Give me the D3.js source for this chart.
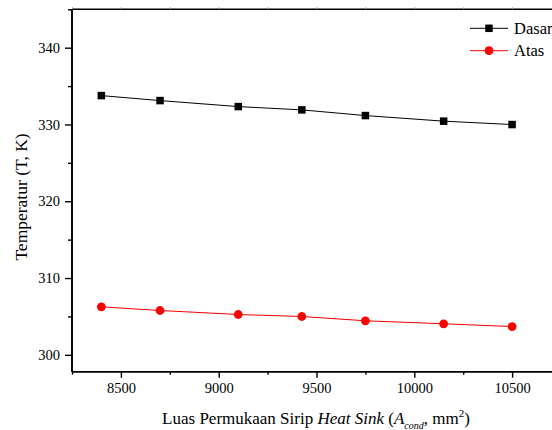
<!DOCTYPE html>
<html><head><meta charset="utf-8">
<script src="https://cdn.jsdelivr.net/npm/d3@7"></script>
<style>
html,body{margin:0;padding:0;background:#fff;overflow:hidden}
svg{display:block}
svg text{font-family:"Liberation Serif","Tinos","Times New Roman","DejaVu Serif","Noto Serif",serif !important;fill:#000}
</style></head>
<body>
<script>
const areas = [8400, 8700, 9100, 9425, 9750, 10150, 10500];
const dasar = [333.76, 333.11, 332.33, 331.90, 331.16, 330.43, 329.99];
const atas  = [306.25, 305.77, 305.25, 304.99, 304.43, 304.04, 303.68];
const seriesNames = ["Dasar", "Atas"];
const xMajorTicks = [8500, 9000, 9500, 10000, 10500];
const xMinorTicks = [8250, 8750, 9250, 9750, 10250, 10750];
const yMajorTicks = [300, 310, 320, 330, 340];
const yMinorTicks = [305, 315, 325, 335, 345];

const FONT = '"Liberation Serif","Tinos","Times New Roman","DejaVu Serif","Noto Serif",serif';
const W = 552, H = 430;
const L = 72, R = 561, T = 9.3, B = 371.7;

const svg = d3.select("body").append("svg").attr("width", W).attr("height", H)
  .attr("font-family", FONT);
const x = d3.scaleLinear().domain([8250, 10750]).range([L, R]);
const y = d3.scaleLinear().domain([297.8, 345]).range([B, T]);

const gx = svg.append("g").attr("transform", `translate(0,${B})`)
  .call(d3.axisBottom(x).tickValues(xMajorTicks).tickSize(6).tickPadding(5).tickFormat(d3.format("d")));
const gxm = svg.append("g").attr("transform", `translate(0,${B})`)
  .call(d3.axisBottom(x).tickValues(xMinorTicks).tickSize(3).tickFormat(""));
const gy = svg.append("g").attr("transform", `translate(${L},0)`)
  .call(d3.axisLeft(y).tickValues(yMajorTicks).tickSize(7).tickPadding(5).tickFormat(d3.format("d")));
const gym = svg.append("g").attr("transform", `translate(${L},0)`)
  .call(d3.axisLeft(y).tickValues(yMinorTicks).tickSize(4).tickFormat(""));
const gt = svg.append("g").attr("transform", `translate(0,${T})`)
  .call(d3.axisTop(x).tickValues(xMajorTicks.concat(xMinorTicks)).tickSize(2).tickFormat(""));
gt.selectAll(".tick line").attr("stroke", "#999");

[gx, gxm, gy, gym, gt].forEach(g => {
  g.attr("font-family", FONT).attr("font-size", 14);
  g.select(".domain").attr("stroke", "#000").attr("stroke-width", 1.6);
  g.selectAll(".tick text").attr("font-size", 14.5).style("font-family", FONT);
});
[gx, gxm, gy, gym].forEach(g => g.selectAll(".tick line").attr("stroke-width", 1.4));
gt.select(".domain").attr("d", `M${L},0H${R}`);
gx.select(".domain").attr("d", `M${L},0H${R}`);
gxm.select(".domain").attr("d", `M${L},0H${R}`);
gy.select(".domain").attr("d", `M0,${B}V${T}`);
gym.select(".domain").attr("d", `M0,${B}V${T}`);

const line = vals => d3.line().x((d, i) => x(areas[i])).y(d => y(d))(vals);
svg.append("path").attr("d", line(dasar)).attr("fill", "none").attr("stroke", "#000").attr("stroke-width", 1);
svg.append("path").attr("d", line(atas)).attr("fill", "none").attr("stroke", "#ff0000").attr("stroke-width", 1);

const sq = 7.5;
svg.append("g").selectAll("rect").data(dasar).join("rect")
  .attr("x", (d, i) => x(areas[i]) - sq / 2).attr("y", d => y(d) - sq / 2)
  .attr("width", sq).attr("height", sq).attr("fill", "#000");
svg.append("g").selectAll("circle").data(atas).join("circle")
  .attr("cx", (d, i) => x(areas[i])).attr("cy", d => y(d)).attr("r", 4.4).attr("fill", "#ff0000");

const lg = svg.append("g");
const legY = [28.3, 50.7];
lg.append("line").attr("x1", 470).attr("x2", 508).attr("y1", legY[0]).attr("y2", legY[0]).attr("stroke", "#000");
lg.append("rect").attr("x", 489 - sq / 2).attr("y", legY[0] - sq / 2).attr("width", sq).attr("height", sq).attr("fill", "#000");
lg.append("line").attr("x1", 470).attr("x2", 508).attr("y1", legY[1]).attr("y2", legY[1]).attr("stroke", "#ff0000");
lg.append("circle").attr("cx", 489).attr("cy", legY[1]).attr("r", 4.4).attr("fill", "#ff0000");
seriesNames.forEach((n, i) => {
  lg.append("text").attr("x", 514).attr("y", legY[i] + 5.5).attr("font-size", 16.5).style("font-family", FONT).text(n);
});

svg.append("text").attr("transform", `translate(27,197) rotate(-90)`)
  .attr("text-anchor", "middle").attr("font-size", 17.5).style("font-family", FONT).text("Temperatur (T, K)");

const xt = svg.append("text").attr("x", 316).attr("y", 424).attr("text-anchor", "middle")
  .attr("font-size", 17).style("font-family", FONT);
xt.append("tspan").text("Luas Permukaan Sirip ");
xt.append("tspan").attr("font-style", "italic").text("Heat Sink");
xt.append("tspan").text(" (");
xt.append("tspan").attr("font-style", "italic").text("A");
xt.append("tspan").attr("font-style", "italic").attr("font-size", 10).attr("dy", 5).text("cond");
xt.append("tspan").attr("dy", -5).text(", mm");
xt.append("tspan").attr("font-size", 11).attr("dy", -7).text("2");
xt.append("tspan").attr("dy", 7).text(")");
</script>
</body></html>
